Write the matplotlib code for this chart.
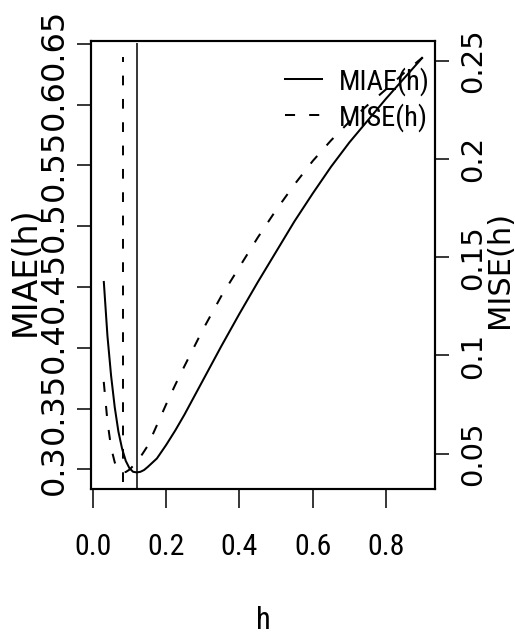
import matplotlib
matplotlib.use("Agg")
import matplotlib.pyplot as plt
from matplotlib.lines import Line2D
from matplotlib import font_manager

# bandwidth grid and the two error criteria evaluated on it
h = [0.03, 0.04, 0.05, 0.06, 0.07, 0.08, 0.09, 0.10, 0.11, 0.12, 0.13, 0.14,
     0.15, 0.175, 0.20, 0.225, 0.25, 0.30, 0.35, 0.40, 0.45, 0.50, 0.55,
     0.60, 0.65, 0.70, 0.75, 0.80, 0.85, 0.90]
miae = [0.455, 0.410, 0.377, 0.351, 0.331, 0.317, 0.307, 0.301, 0.298,
        0.2975, 0.298, 0.2995, 0.302, 0.309, 0.320, 0.332, 0.345, 0.373,
        0.401, 0.428, 0.454, 0.479, 0.504, 0.527, 0.549, 0.569, 0.587,
        0.605, 0.622, 0.639]
mise = [0.0865, 0.0665, 0.0530, 0.0455, 0.0418, 0.0404, 0.0406, 0.0418,
        0.0437, 0.0458, 0.0483, 0.0511, 0.0540, 0.0645, 0.0750, 0.0850,
        0.0945, 0.1130, 0.1300, 0.1450, 0.1600, 0.1740, 0.1870, 0.1990,
        0.2095, 0.2190, 0.2275, 0.2355, 0.2440, 0.2518]

# optimal bandwidths
h_miae_opt = 0.121
h_mise_opt = 0.082
miae_vline_top = 0.651

x_ticks = [0.0, 0.2, 0.4, 0.6, 0.8]
x_labels = ["0.0", "0.2", "0.4", "0.6", "0.8"]
miae_ticks = [0.30, 0.35, 0.40, 0.45, 0.50, 0.55, 0.60, 0.65]
miae_labels = ["0.3", "0.35", "0.4", "0.45", "0.5", "0.55", "0.6", "0.65"]
mise_ticks = [0.05, 0.10, 0.15, 0.20, 0.25]
mise_labels = ["0.05", "0.1", "0.15", "0.2", "0.25"]


def r_lim(v):
    # R style axis range: data range plus 4% on each side
    lo, hi = min(v), max(v)
    pad = 0.04 * (hi - lo)
    return lo - pad, hi + pad


# condensed face for the horizontal text if one is installed
names = {f.name for f in font_manager.fontManager.ttflist}
narrow_name = None
for cand in ["Liberation Sans Narrow", "DejaVu Sans Condensed",
             "Roboto Condensed", "Open Sans Condensed", "Liberation Sans"]:
    if cand in names:
        narrow_name = cand
        break
narrow = dict(family=[narrow_name, "DejaVu Sans"], stretch="condensed")
wide = dict(family=["DejaVu Sans"])
lw = 1.45
dash = (0, (5, 7))

fig = plt.figure(figsize=(5.15, 6.36), dpi=100)
ax = fig.add_axes([0.1767, 0.2311, 0.6689, 0.7049])
ax2 = ax.twinx()

ax.plot(h, miae, color="black", lw=lw, solid_capstyle="butt")
ax.vlines(h_miae_opt, 0, miae_vline_top, color="black", lw=1.1)
ax2.plot(h, mise, color="black", lw=lw, linestyle=dash)
ax2.vlines(h_mise_opt, 0, max(mise), color="black", lw=1.4, linestyles=[dash])

ax.set_xlim(*r_lim(h))
ax.set_ylim(*r_lim(miae))
ax2.set_ylim(*r_lim(mise))

for a in (ax, ax2):
    for s in a.spines.values():
        s.set_linewidth(1.5)

ax.set_xticks(x_ticks)
ax.set_xticklabels(x_labels, fontsize=21.5, **narrow)
ax.tick_params(axis="x", direction="out", length=14, width=1.1, pad=18)

ax.set_yticks(miae_ticks)
ax.set_yticklabels(miae_labels, fontsize=23, rotation=90, va="center", **wide)
ax.tick_params(axis="y", direction="out", length=10, width=1.1, pad=5)

ax2.set_yticks(mise_ticks)
ax2.set_yticklabels(mise_labels, fontsize=21, rotation=90, va="center", **wide)
ax2.tick_params(axis="y", direction="out", length=10, width=1.1, pad=7)

ax.set_xlabel("h", fontsize=22, **narrow)
ax.xaxis.set_label_coords(0.5, -0.294)
ax.xaxis.label.set_va("center")

ax.set_ylabel("MIAE(h)", fontsize=24, **wide)
ax.yaxis.set_label_coords(-0.192, 0.487)
ax.yaxis.label.set_va("center")

ax2.set_ylabel("MISE(h)", fontsize=22, rotation=90, **wide)
ax2.yaxis.set_label_coords(1.187, 0.49)
ax2.yaxis.label.set_va("center")

handles = [Line2D([], [], color="black", lw=lw),
           Line2D([], [], color="black", lw=lw, linestyle=dash)]
ax2.legend(handles, ["MIAE(h)", "MISE(h)"], loc="upper right",
           bbox_to_anchor=(1.016, 0.967), frameon=False,
           prop=dict(size=20.5, **narrow),
           handlelength=1.3, handletextpad=0.6, labelspacing=0.25,
           borderaxespad=0)

fig.savefig("out.png", dpi=100)
